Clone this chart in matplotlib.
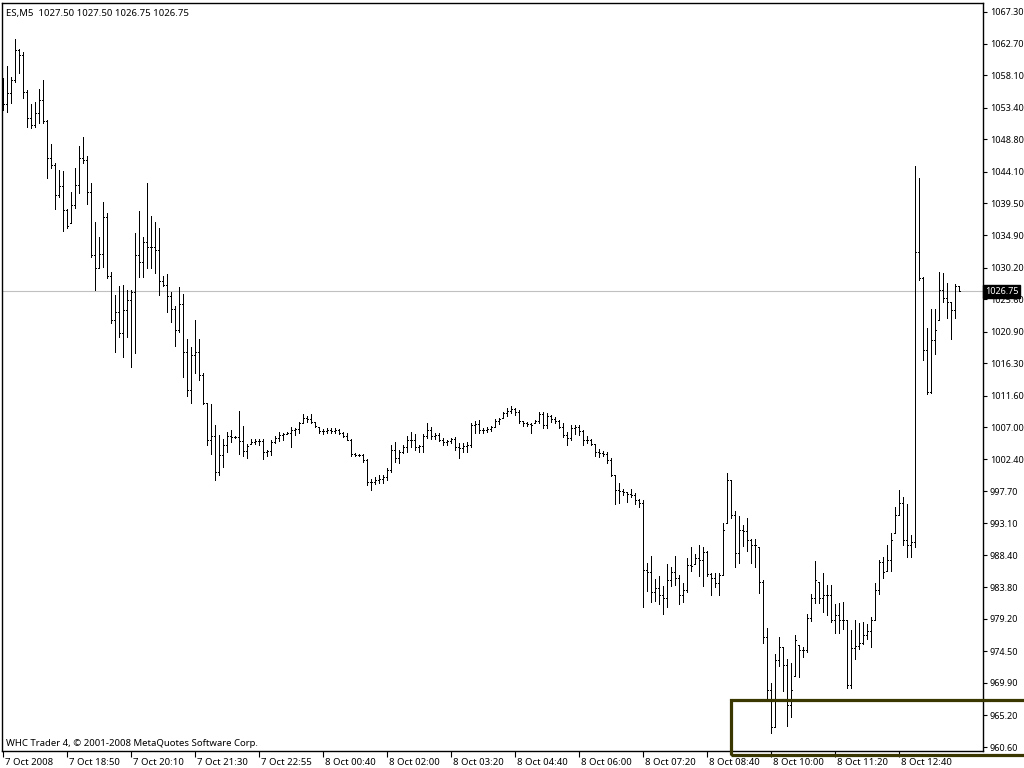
import numpy as np
import matplotlib
matplotlib.use("Agg")
import matplotlib.pyplot as plt
import matplotlib.transforms as mtransforms
from matplotlib.patches import Rectangle

# ES 5-minute bars, 7-8 Oct 2008

highs = [
    1057.72, 1059.46, 1057.86, 1063.38, 1061.93, 1061.49, 1055.98, 1053.94, 1054.23, 1056.12,
    1057.43, 1051.62, 1048.14, 1045.38, 1044.36, 1044.22, 1038.70, 1041.17, 1044.65, 1047.85,
    1049.15, 1046.40, 1042.48, 1036.81, 1034.64, 1039.72, 1038.12, 1029.56, 1026.22, 1027.52,
    1027.67, 1026.94, 1026.94, 1035.22, 1038.41, 1034.64, 1042.48, 1037.69, 1036.81, 1035.94,
    1028.98, 1029.27, 1026.65, 1024.62, 1027.38, 1026.36, 1019.83, 1018.67, 1022.59, 1019.83,
    1014.90, 1010.54, 1010.40, 1007.35, 1005.90, 1005.31, 1006.33, 1006.62, 1005.75, 1009.38,
    1007.20, 1004.59, 1005.31, 1005.31, 1005.31, 1005.31, 1003.72, 1005.17, 1005.75, 1006.33,
    1006.19, 1006.33, 1007.06, 1006.91, 1007.78, 1008.94, 1008.65, 1008.94, 1007.78, 1007.06,
    1006.77, 1006.91, 1006.91, 1006.91, 1006.77, 1006.33, 1006.19, 1005.31, 1003.28, 1003.14,
    1003.14, 1002.41, 999.51, 999.80, 1000.09, 1000.09, 1001.11, 1004.44, 1004.88, 1003.72,
    1004.44, 1005.75, 1006.33, 1006.04, 1004.44, 1006.04, 1007.64, 1007.06, 1006.19, 1006.19,
    1005.46, 1005.17, 1005.46, 1005.61, 1004.73, 1004.73, 1004.88, 1007.64, 1007.93, 1008.07,
    1006.91, 1007.06, 1007.20, 1008.22, 1008.36, 1009.23, 1009.81, 1010.10, 1009.81, 1009.52,
    1007.93, 1007.78, 1007.64, 1008.07, 1009.23, 1009.23, 1009.09, 1008.80, 1008.51, 1008.07,
    1007.64, 1006.33, 1007.35, 1007.35, 1007.35, 1006.62, 1005.75, 1005.31, 1004.59, 1003.86,
    1003.57, 1003.43, 1002.56, 1000.09, 998.93, 998.06, 997.62, 998.06, 997.48, 996.61,
    996.46, 987.32, 988.33, 984.99, 985.43, 983.98, 987.17, 986.73, 988.33, 985.57,
    984.41, 988.04, 989.64, 988.62, 989.93, 989.64, 989.06, 985.86, 985.86, 985.86,
    993.12, 1000.38, 999.36, 994.86, 994.14, 992.83, 993.85, 990.80, 990.80, 989.64,
    984.85, 977.88, 969.90, 974.11, 976.57, 975.12, 973.38, 972.80, 976.86, 975.41,
    975.12, 979.91, 982.81, 987.61, 984.56, 985.86, 984.12, 984.12, 981.36, 981.51,
    981.65, 979.04, 977.59, 979.04, 978.61, 978.75, 978.46, 979.48, 984.41, 987.75,
    988.19, 989.93, 991.67, 995.44, 997.91, 996.89, 995.88, 991.38, 1044.94, 1043.20,
    1028.83, 1021.43, 1024.19, 1024.19, 1029.56, 1029.41, 1027.96, 1025.20, 1027.75, 1027.50,
]

lows = [
    1053.07, 1052.78, 1054.09, 1057.14, 1058.44, 1054.81, 1050.60, 1050.46, 1050.60, 1051.19,
    1051.19, 1043.20, 1044.65, 1038.70, 1040.44, 1035.51, 1035.94, 1036.67, 1038.85, 1041.02,
    1045.38, 1039.43, 1031.73, 1026.94, 1030.14, 1030.28, 1028.69, 1022.15, 1017.94, 1020.12,
    1017.22, 1020.12, 1015.77, 1017.80, 1028.83, 1028.83, 1030.14, 1030.14, 1029.41, 1026.22,
    1027.52, 1023.75, 1022.30, 1018.81, 1020.85, 1014.31, 1011.56, 1010.54, 1014.90, 1013.88,
    1010.40, 1004.44, 1003.14, 999.36, 1000.09, 1001.25, 1003.43, 1004.88, 1005.46, 1003.14,
    1002.85, 1002.56, 1004.59, 1004.59, 1004.44, 1002.41, 1002.85, 1002.99, 1004.73, 1005.02,
    1005.17, 1006.04, 1004.15, 1005.90, 1006.19, 1007.64, 1007.78, 1007.64, 1007.06, 1006.19,
    1006.04, 1006.19, 1006.19, 1006.19, 1006.04, 1005.61, 1005.17, 1002.85, 1002.85, 1002.85,
    1001.98, 998.64, 997.91, 998.78, 998.93, 998.93, 999.36, 1000.52, 1001.98, 1001.83,
    1003.28, 1003.43, 1004.15, 1003.72, 1003.43, 1003.43, 1005.46, 1005.31, 1005.31, 1005.02,
    1004.44, 1004.44, 1004.73, 1003.72, 1002.56, 1003.43, 1003.43, 1004.15, 1006.19, 1006.19,
    1006.19, 1006.33, 1006.48, 1007.06, 1007.49, 1008.36, 1008.65, 1009.09, 1008.80, 1007.64,
    1007.20, 1007.20, 1006.19, 1007.64, 1007.64, 1006.91, 1006.91, 1007.78, 1007.64, 1006.91,
    1005.61, 1004.44, 1005.17, 1006.04, 1005.90, 1004.44, 1004.73, 1004.44, 1002.85, 1002.70,
    1002.85, 1001.83, 999.94, 995.88, 996.03, 997.19, 996.17, 996.89, 995.88, 995.44,
    980.93, 983.25, 981.65, 981.80, 981.36, 979.91, 980.93, 983.98, 984.12, 981.36,
    981.65, 983.11, 986.15, 987.17, 985.43, 983.98, 985.43, 982.67, 983.83, 982.67,
    985.57, 993.12, 993.85, 986.73, 987.32, 989.78, 989.06, 987.32, 986.73, 982.96,
    975.70, 967.72, 962.64, 963.51, 972.36, 968.73, 963.65, 964.96, 970.91, 970.77,
    973.67, 974.40, 978.90, 981.51, 981.51, 980.20, 979.77, 978.75, 977.15, 977.15,
    977.73, 969.17, 969.17, 973.38, 974.83, 975.56, 976.28, 975.12, 979.04, 982.81,
    985.14, 986.15, 986.15, 991.67, 994.28, 989.93, 988.19, 988.19, 989.64, 1028.40,
    1016.78, 1011.85, 1011.99, 1017.65, 1022.59, 1025.20, 1022.88, 1019.83, 1022.88, 1026.75,
]

closes = [
    1053.94, 1055.54, 1057.43, 1061.78, 1061.06, 1055.69, 1051.91, 1050.89, 1052.64, 1054.52,
    1051.48, 1046.10, 1045.09, 1040.73, 1042.04, 1038.56, 1036.23, 1039.28, 1042.18, 1046.10,
    1045.81, 1041.17, 1032.02, 1030.14, 1032.17, 1037.54, 1028.98, 1022.59, 1023.75, 1020.70,
    1024.04, 1025.49, 1026.65, 1032.02, 1031.01, 1033.91, 1033.19, 1033.19, 1032.75, 1028.25,
    1027.67, 1026.07, 1024.19, 1021.14, 1024.91, 1017.94, 1012.43, 1017.51, 1017.94, 1014.60,
    1010.54, 1005.17, 1005.75, 1000.52, 1002.99, 1004.44, 1005.75, 1005.61, 1005.61, 1005.02,
    1003.57, 1004.30, 1004.88, 1005.02, 1005.02, 1003.43, 1003.57, 1004.88, 1005.46, 1005.90,
    1006.04, 1006.19, 1006.62, 1006.77, 1007.64, 1008.36, 1008.22, 1007.78, 1007.20, 1006.48,
    1006.48, 1006.62, 1006.48, 1006.62, 1006.19, 1005.75, 1005.17, 1003.14, 1002.99, 1002.99,
    1002.27, 999.07, 999.07, 999.36, 999.51, 999.80, 1000.81, 1003.72, 1002.56, 1003.43,
    1004.15, 1005.17, 1005.17, 1004.15, 1004.30, 1005.75, 1006.62, 1005.75, 1005.90, 1005.17,
    1004.88, 1005.02, 1005.31, 1004.15, 1004.01, 1004.30, 1004.44, 1007.35, 1007.49, 1006.62,
    1006.62, 1006.77, 1007.06, 1007.93, 1008.22, 1009.09, 1009.38, 1009.67, 1009.23, 1007.93,
    1007.64, 1007.49, 1007.35, 1007.93, 1008.94, 1007.35, 1008.65, 1008.22, 1007.93, 1007.06,
    1005.90, 1005.46, 1006.91, 1007.06, 1006.48, 1005.17, 1005.17, 1004.59, 1003.43, 1003.28,
    1003.14, 1002.27, 1000.09, 997.91, 997.77, 997.62, 997.33, 997.19, 996.46, 996.03,
    986.30, 986.01, 983.11, 983.69, 982.67, 982.23, 984.85, 986.01, 985.14, 982.67,
    983.40, 987.02, 986.88, 988.04, 987.75, 988.91, 985.72, 985.14, 984.41, 985.57,
    992.11, 999.36, 994.28, 988.77, 992.11, 991.96, 990.66, 989.93, 989.93, 984.56,
    976.57, 968.88, 963.52, 973.23, 975.12, 972.51, 966.70, 968.88, 976.14, 974.69,
    974.69, 979.33, 982.23, 984.85, 982.23, 982.67, 982.67, 979.04, 979.77, 979.04,
    979.04, 969.61, 974.97, 975.27, 975.70, 976.86, 977.44, 979.04, 983.40, 987.46,
    986.01, 987.75, 990.66, 994.28, 996.03, 990.66, 989.93, 990.36, 1032.46, 1028.69,
    1018.23, 1012.14, 1019.68, 1021.14, 1026.94, 1025.78, 1025.20, 1024.04, 1027.50, 1026.75,
]

first_open = 1055.25

time_labels = [
    "7 Oct 2008", "7 Oct 18:50", "7 Oct 20:10", "7 Oct 21:30", "7 Oct 22:55",
    "8 Oct 00:40", "8 Oct 02:00", "8 Oct 03:20", "8 Oct 04:40", "8 Oct 06:00",
    "8 Oct 07:20", "8 Oct 08:40", "8 Oct 10:00", "8 Oct 11:20", "8 Oct 12:40",
]
bars_per_label = 16

price_ticks = [
    1067.30, 1062.70, 1058.10, 1053.40, 1048.80, 1044.10, 1039.50, 1034.90,
    1030.20, 1025.60, 1020.90, 1016.30, 1011.60, 1007.00, 1002.40, 997.70,
    993.10, 988.40, 983.80, 979.20, 974.50, 969.90, 965.20, 960.60,
]

last_price = 1026.75
header = "ES,M5  1027.50 1027.50 1026.75 1026.75"
footer = "WHC Trader 4, \u00a9 2001-2008 MetaQuotes Software Corp."

# plot

plt.rcParams["font.family"] = ["Noto Sans", "DejaVu Sans"]
fs = 6.9      # time labels and captions
fs_price = 6.5  # price scale, has to fit in the right margin

highs = np.array(highs)
lows = np.array(lows)
closes = np.array(closes)
opens = np.clip(np.r_[first_open, closes[:-1]], lows, highs)
x = np.arange(len(closes))

fig = plt.figure(figsize=(10.24, 7.68), dpi=100)
ax = fig.add_axes([2 / 1024, 17 / 768, 981 / 1024, 748 / 768])

ax.axhline(last_price, color="#c0c0c0", lw=0.8, zorder=0)

bar_lw = 0.72  # one pixel at 100 dpi
ax.vlines(x, lows, highs, color="black", lw=bar_lw, antialiased=False)
ax.hlines(opens, x - 0.35, x, color="black", lw=bar_lw, antialiased=False)
ax.hlines(closes, x, x + 0.35, color="black", lw=bar_lw, antialiased=False)

ax.set_xlim(-0.25, 245)
ax.set_ylim(960.02, 1068.60)

for s in ax.spines.values():
    s.set_color("black")
    s.set_linewidth(1.0)

ax.yaxis.tick_right()
ax.set_yticks(price_ticks)
ax.set_yticklabels(["%.2f" % p for p in price_ticks])
ax.tick_params(axis="y", direction="out", length=3, width=0.8, labelsize=fs_price, pad=2)

xt = np.arange(len(time_labels)) * bars_per_label
ax.set_xticks(xt)
ax.set_xticklabels(time_labels)
ax.tick_params(axis="x", direction="out", length=4, width=0.8, labelsize=fs, pad=1)
offset = mtransforms.ScaledTranslation(2 / 100, 0, fig.dpi_scale_trans)
for lbl in ax.get_xticklabels():
    lbl.set_ha("left")
    lbl.set_transform(lbl.get_transform() + offset)

# current price tag on the price scale
trans = mtransforms.blended_transform_factory(ax.transAxes, ax.transData)
ax.text(1.002, last_price, "%.2f" % last_price, transform=trans, ha="left", va="center",
        fontsize=fs_price, color="white", clip_on=False, zorder=5,
        bbox=dict(boxstyle="square,pad=0.2", fc="black", ec="black"))

ax.text(0.004, 0.992, header, transform=ax.transAxes, ha="left", va="top", fontsize=fs)
ax.text(0.004, 0.004, footer, transform=ax.transAxes, ha="left", va="bottom", fontsize=fs)

# highlight box in the lower right corner
fig.add_artist(Rectangle((731 / 1024, 13 / 768), 300 / 1024, 55 / 768,
                         transform=fig.transFigure, fill=False,
                         ec="#3a3800", lw=2.3, clip_on=False))

fig.savefig("out.png", dpi=100)
